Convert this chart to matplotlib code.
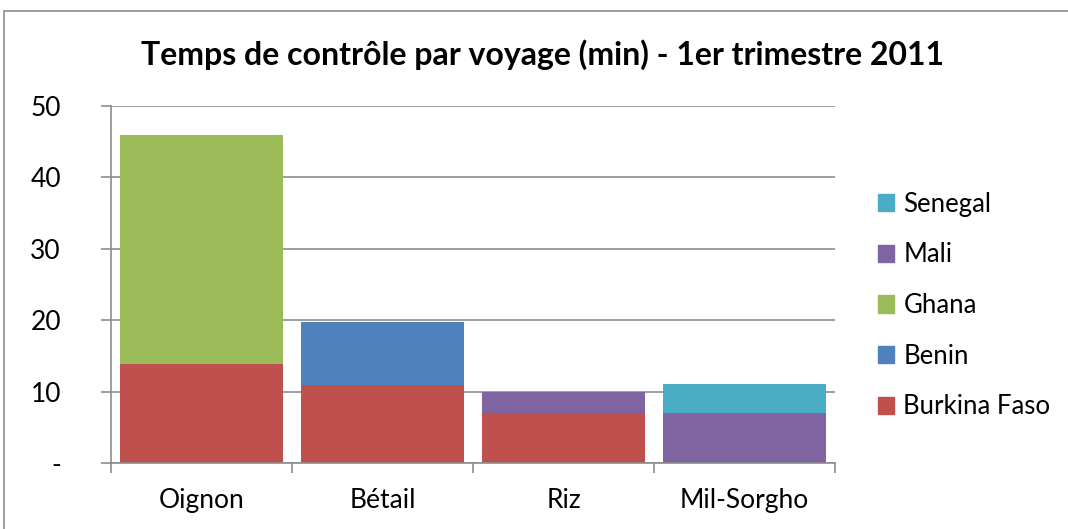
import matplotlib.pyplot as plt
import matplotlib.patches as mpatches
import numpy as np

plt.rcParams['font.family'] = ['Lato', 'DejaVu Sans']

categories = ['Oignon', 'Bétail', 'Riz', 'Mil-Sorgho']
series_names = ['Burkina Faso', 'Benin', 'Ghana', 'Mali', 'Senegal']
burkina = [13.8, 10.9, 7.0, 0]
benin = [0, 8.8, 0, 0]
ghana = [32.2, 0, 0, 0]
mali = [0, 0, 3.0, 7.0]
senegal = [0, 0, 0, 4.0]
colors = ['#C0504D', '#4F81BD', '#9BBB59', '#8064A2', '#4BACC6']

fig = plt.figure(figsize=(10.68, 5.29), dpi=100)
ax = fig.add_axes([0.1039, 0.1248, 0.678, 0.6748])

x = np.arange(len(categories))
bottom = np.zeros(len(categories))
handles = []
for name, vals, c in zip(series_names, [burkina, benin, ghana, mali, senegal], colors):
    ax.bar(x, vals, width=0.9, bottom=bottom, color=c, zorder=3)
    bottom += np.array(vals)
    handles.append(mpatches.Patch(color=c, label=name))

ax.set_xlim(-0.5, 3.5)
ax.set_ylim(0, 50)
ax.set_yticks([0, 10, 20, 30, 40, 50])
ax.set_yticklabels(['-', '10', '20', '30', '40', '50'], fontsize=19)
ax.yaxis.grid(True, color='#8c8c8c', linewidth=1.2, zorder=0)
ax.tick_params(axis='y', length=7, color='#8c8c8c', width=1.2, pad=29)

ax.set_xticks(x)
ax.set_xticklabels(categories, fontsize=19)
ax.set_xticks(np.arange(-0.5, 4, 1), minor=True)
ax.tick_params(axis='x', which='major', length=0, pad=18)
ax.tick_params(axis='x', which='minor', length=7, color='#8c8c8c', width=1.2)

for s in ['top', 'right']:
    ax.spines[s].set_visible(False)
for s in ['left', 'bottom']:
    ax.spines[s].set_color('#8c8c8c')
    ax.spines[s].set_linewidth(1.2)
    ax.spines[s].set_zorder(4)

fig.suptitle('Temps de contrôle par voyage (min) - 1er trimestre 2011',
             x=0.508, y=0.896, va='center', fontsize=23, fontweight='bold')

fig.legend(handles=handles[::-1], loc='center left', bbox_to_anchor=(0.8, 0.4225),
           frameon=False, fontsize=18.5, labelspacing=1.0, handlelength=0.66,
           handleheight=0.66, handletextpad=0.35)

border = mpatches.Rectangle((0.004, -0.01), 1.5, 0.99, transform=fig.transFigure,
                            fill=False, edgecolor='#8c8c8c', linewidth=1.2)
fig.patches.append(border)

fig.savefig('out.png', dpi=100)
